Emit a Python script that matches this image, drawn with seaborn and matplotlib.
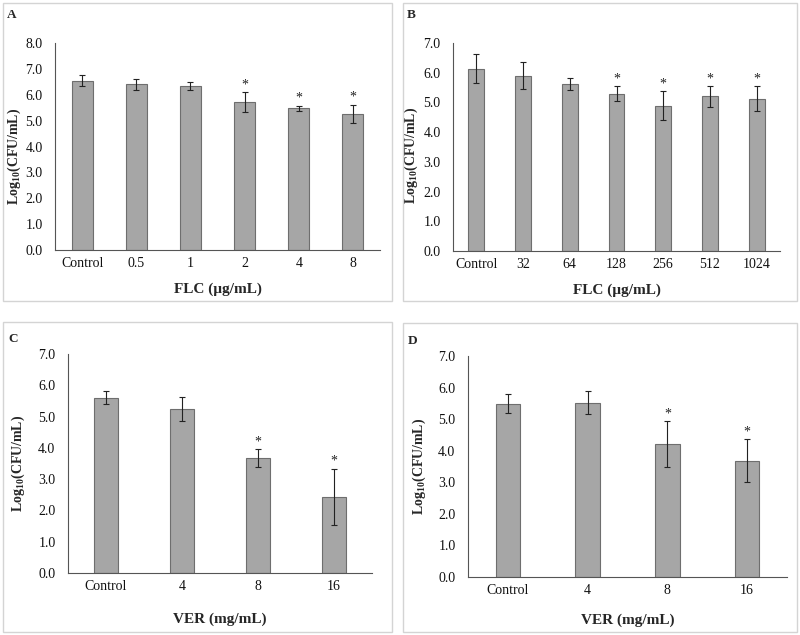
import matplotlib
matplotlib.use("Agg")
import matplotlib.pyplot as plt
import matplotlib.patches as mpatches
import numpy as np
import pandas as pd
import seaborn as sns

# Panel data
a_labels = ["Control", "0.5", "1", "2", "4", "8"]
a_means = [6.55, 6.40, 6.33, 5.73, 5.47, 5.27]
a_errs = [0.20, 0.21, 0.15, 0.38, 0.11, 0.35]
a_signif = [False, False, False, True, True, True]

b_labels = ["Control", "32", "64", "128", "256", "512", "1024"]
b_means = [6.13, 5.90, 5.63, 5.29, 4.89, 5.20, 5.12]
b_errs = [0.49, 0.46, 0.20, 0.25, 0.49, 0.36, 0.42]
b_signif = [False, False, False, True, True, True, True]

c_labels = ["Control", "4", "8", "16"]
c_means = [5.60, 5.24, 3.67, 2.43]
c_errs = [0.21, 0.38, 0.29, 0.91]
c_signif = [False, False, True, True]

d_labels = ["Control", "4", "8", "16"]
d_means = [5.49, 5.52, 4.22, 3.68]
d_errs = [0.30, 0.36, 0.72, 0.68]
d_signif = [False, False, True, True]

W, H = 800, 635

sns.set_style("white")
plt.rcParams["font.family"] = ["Liberation Serif", "DejaVu Serif"]
plt.rcParams["mathtext.fontset"] = "custom"
plt.rcParams["mathtext.rm"] = "Liberation Serif"
plt.rcParams["mathtext.bf"] = "Liberation Serif:bold"

fig = plt.figure(figsize=(W / 100, H / 100), dpi=100)
fig.patch.set_facecolor("white")


def px_axes(left, right, top, bottom):
    return fig.add_axes([left / W, (H - bottom) / H, (right - left) / W, (bottom - top) / H])


def frame(x0, y0, x1, y1):
    rect = mpatches.Rectangle(
        (x0 / W, (H - y1) / H), (x1 - x0) / W, (y1 - y0) / H,
        transform=fig.transFigure, fill=False, edgecolor="#d4d4d4", linewidth=1.0,
    )
    fig.patches.append(rect)


def panel(ax, labels, means, errs, signif, ymax, width, xlabel, letter,
          letter_xy, xlabel_pad, ylabel_x, ylabel_y):
    df = pd.DataFrame({"dose": labels, "value": means})
    sns.barplot(
        data=df, x="dose", y="value", order=labels, color="#a6a6a6",
        edgecolor="#6e6e6e", linewidth=0.8, width=width, saturation=1,
        errorbar=None, ax=ax,
    )
    xs = np.arange(len(labels))
    ax.errorbar(xs, means, yerr=errs, fmt="none", ecolor="#222222",
                elinewidth=0.8, capsize=2, capthick=0.8)
    for x, m, e, s in zip(xs, means, errs, signif):
        if s:
            ax.text(x, m + e + ymax * 0.003, "*", ha="center", va="bottom",
                    fontsize=10, color="#222222")
    ax.set_ylim(0, ymax)
    ax.set_xlim(-0.5, len(labels) - 0.5)
    ticks = np.arange(0, ymax + 0.01, 1.0)
    ax.set_yticks(ticks)
    ax.set_yticklabels(["{:.1f}".format(v) for v in ticks], fontsize=10)
    ax.set_xticks(xs)
    ax.set_xticklabels(labels, fontsize=10)
    ax.set_xticks(np.arange(-0.5, len(labels), 1.0), minor=True)
    ax.tick_params(axis="x", which="major", length=0, pad=5)
    ax.tick_params(axis="x", which="minor", length=4, width=0.8, color="#555555", direction="out")
    ax.tick_params(axis="y", length=4, width=0.8, color="#555555", direction="out", pad=5)
    ax.tick_params(axis="both", colors="#555555", labelcolor="#111111")
    sns.despine(ax=ax)
    for side in ["left", "bottom"]:
        ax.spines[side].set_color("#555555")
        ax.spines[side].set_linewidth(0.8)
    ax.set_xlabel(xlabel, fontsize=11, fontweight="bold", labelpad=xlabel_pad)
    ax.set_ylabel(r"Log$_{\mathbf{10}}$(CFU/mL)", fontsize=10, fontweight="bold")
    ax.yaxis.set_label_coords(ylabel_x, ylabel_y)
    ax.set_facecolor("none")
    fig.text(letter_xy[0] / W, 1 - letter_xy[1] / H, letter, fontsize=9.5,
             fontweight="bold", ha="left", va="center")


frame(3, 3, 392, 301)
frame(403, 3, 797, 301)
frame(3, 322, 392, 632)
frame(403, 323, 797, 632)

ax_a = px_axes(55, 380, 43, 250)
panel(ax_a, a_labels, a_means, a_errs, a_signif, 8.0, 0.39,
      "FLC (\u00b5g/mL)", "A", (7, 15), 9, -32 / 325, 0.45)

ax_b = px_axes(453, 780, 43, 251)
panel(ax_b, b_labels, b_means, b_errs, b_signif, 7.0, 0.34,
      "FLC (\u00b5g/mL)", "B", (407, 15), 9, -33 / 327, 0.46)

ax_c = px_axes(68, 372, 354, 573)
panel(ax_c, c_labels, c_means, c_errs, c_signif, 7.0, 0.32,
      "VER (mg/mL)", "C", (8, 339), 14, -41 / 304, 0.5)

ax_d = px_axes(468, 787, 356, 577)
panel(ax_d, d_labels, d_means, d_errs, d_signif, 7.0, 0.31,
      "VER (mg/mL)", "D", (408, 341), 12, -40 / 319, 0.5)

fig.savefig("out.png", dpi=100, facecolor="white")
plt.close()
